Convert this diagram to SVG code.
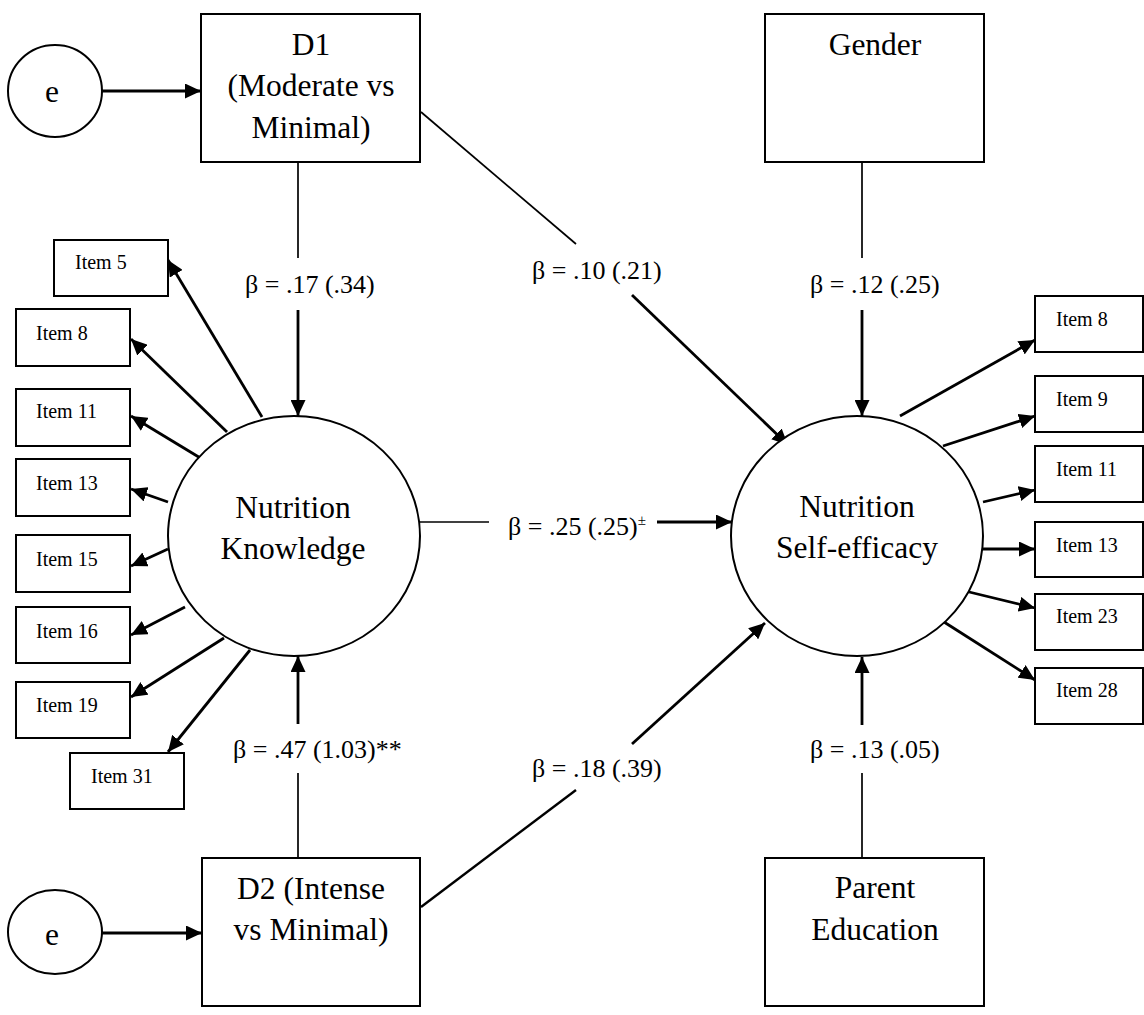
<svg xmlns="http://www.w3.org/2000/svg" width="1144" height="1015" viewBox="0 0 1144 1015">
<style>
.box{fill:#fff;stroke:#000;stroke-width:2}
.ell{fill:#fff;stroke:#000;stroke-width:2}
.big{font-family:"Liberation Serif","Times New Roman",serif;font-size:31.5px;fill:#000;text-anchor:middle}
.lab{font-family:"Liberation Serif","Times New Roman",serif;font-size:26px;fill:#000}
.item{font-family:"Liberation Serif","Times New Roman",serif;font-size:20px;fill:#000}
.thin{stroke:#000;stroke-width:1.7;fill:none}
.arr{stroke:#000;stroke-width:2.8;fill:none;marker-end:url(#ah)}
</style>
<defs>
<marker id="ah" viewBox="0 0 16 15" refX="16" refY="7.5" markerWidth="16" markerHeight="15" markerUnits="userSpaceOnUse" orient="auto">
<path d="M0,0 L16,7.5 L0,15 z" fill="#000"/>
</marker>
</defs>
<rect width="1144" height="1015" fill="#fff"/>
<g id="connectors">
<line class="arr" x1="102" y1="91" x2="201" y2="91"/>
<line class="arr" x1="102" y1="933" x2="202" y2="933"/>
<line class="thin" x1="298" y1="162" x2="298" y2="258"/>
<line class="arr" x1="298" y1="310" x2="298" y2="416"/>
<line class="thin" x1="298" y1="858" x2="298" y2="773"/>
<line class="arr" x1="298" y1="724" x2="298" y2="656"/>
<line class="thin" x1="421" y1="112" x2="576" y2="244"/>
<line class="arr" x1="632" y1="295" x2="788" y2="445"/>
<line class="thin" x1="421" y1="907" x2="576" y2="790" style="stroke-width:2.4"/>
<line class="arr" x1="632" y1="744" x2="765" y2="623"/>
<line class="thin" x1="862" y1="162" x2="862" y2="258"/>
<line class="arr" x1="862" y1="310" x2="862" y2="416"/>
<line class="thin" x1="862" y1="858" x2="862" y2="773"/>
<line class="arr" x1="862" y1="725" x2="862" y2="657"/>
<line class="thin" x1="420" y1="522" x2="489" y2="522"/>
<line class="arr" x1="657" y1="522" x2="732" y2="522"/>
<line class="arr" x1="262" y1="417" x2="168" y2="260"/>
<line class="arr" x1="227" y1="432" x2="131" y2="339"/>
<line class="arr" x1="202" y1="459" x2="131" y2="416"/>
<line class="arr" x1="168" y1="502" x2="131" y2="489"/>
<line class="arr" x1="168" y1="549" x2="131" y2="566"/>
<line class="arr" x1="185" y1="607" x2="131" y2="635"/>
<line class="arr" x1="224" y1="638" x2="131" y2="697"/>
<line class="arr" x1="250" y1="650" x2="168" y2="752"/>
<line class="arr" x1="900" y1="416" x2="1035" y2="340"/>
<line class="arr" x1="943" y1="446" x2="1035" y2="416"/>
<line class="arr" x1="983" y1="502" x2="1035" y2="490"/>
<line class="arr" x1="982" y1="549" x2="1035" y2="549"/>
<line class="arr" x1="965" y1="591" x2="1035" y2="608"/>
<line class="arr" x1="944" y1="622" x2="1035" y2="680"/>
<text class="lab" x="245" y="293">β = .17 (.34)</text>
<text class="lab" x="532" y="279">β = .10 (.21)</text>
<text class="lab" x="810" y="293">β = .12 (.25)</text>
<text class="lab" x="508" y="535">β = .25 (.25)<tspan font-size="15" dy="-10">±</tspan></text>
<text class="lab" x="233" y="758">β = .47 (1.03)**</text>
<text class="lab" x="532" y="777">β = .18 (.39)</text>
<text class="lab" x="810" y="758">β = .13 (.05)</text>
</g>
<g id="e1"><ellipse class="ell" cx="55" cy="91" rx="47" ry="46"/><text class="big" x="52" y="102">e</text></g>
<g id="e2"><ellipse class="ell" cx="55" cy="932" rx="47" ry="42"/><text class="big" x="52" y="945">e</text></g>
<g id="d1"><rect class="box" x="201" y="14" width="219" height="148"/>
<text class="big" x="311" y="55">D1</text><text class="big" x="311" y="96">(Moderate vs</text><text class="big" x="311" y="138">Minimal)</text></g>
<g id="gender"><rect class="box" x="765" y="14" width="219" height="148"/><text class="big" x="875" y="55">Gender</text></g>
<g id="d2"><rect class="box" x="202" y="858" width="218" height="148"/>
<text class="big" x="311" y="899">D2 (Intense</text><text class="big" x="311" y="940">vs Minimal)</text></g>
<g id="parent"><rect class="box" x="765" y="858" width="219" height="148"/>
<text class="big" x="875" y="898">Parent</text><text class="big" x="875" y="940">Education</text></g>
<g id="nk"><ellipse class="ell" cx="294" cy="536" rx="126" ry="120"/>
<text class="big" x="293" y="518">Nutrition</text><text class="big" x="293" y="559">Knowledge</text></g>
<g id="nse"><ellipse class="ell" cx="857" cy="536" rx="126" ry="120"/>
<text class="big" x="857" y="517">Nutrition</text><text class="big" x="857" y="558">Self-efficacy</text></g>
<g id="nk-item5"><rect class="box" x="54" y="240" width="114" height="56"/><text class="item" x="75" y="269">Item 5</text></g>
<g id="nk-item8"><rect class="box" x="16" y="309" width="114" height="57"/><text class="item" x="36" y="340">Item 8</text></g>
<g id="nk-item11"><rect class="box" x="16" y="389" width="114" height="57"/><text class="item" x="36" y="418">Item 11</text></g>
<g id="nk-item13"><rect class="box" x="16" y="459" width="114" height="57"/><text class="item" x="36" y="490">Item 13</text></g>
<g id="nk-item15"><rect class="box" x="16" y="535" width="114" height="57"/><text class="item" x="36" y="566">Item 15</text></g>
<g id="nk-item16"><rect class="box" x="16" y="607" width="114" height="56"/><text class="item" x="36" y="638">Item 16</text></g>
<g id="nk-item19"><rect class="box" x="16" y="682" width="114" height="56"/><text class="item" x="36" y="712">Item 19</text></g>
<g id="nk-item31"><rect class="box" x="70" y="753" width="114" height="56"/><text class="item" x="91" y="783">Item 31</text></g>
<g id="se-item8"><rect class="box" x="1035" y="296" width="108" height="56"/><text class="item" x="1056" y="326">Item 8</text></g>
<g id="se-item9"><rect class="box" x="1035" y="376" width="108" height="56"/><text class="item" x="1056" y="406">Item 9</text></g>
<g id="se-item11"><rect class="box" x="1035" y="446" width="108" height="56"/><text class="item" x="1056" y="476">Item 11</text></g>
<g id="se-item13"><rect class="box" x="1035" y="522" width="108" height="55"/><text class="item" x="1056" y="552">Item 13</text></g>
<g id="se-item23"><rect class="box" x="1035" y="594" width="108" height="56"/><text class="item" x="1056" y="623">Item 23</text></g>
<g id="se-item28"><rect class="box" x="1035" y="668" width="108" height="56"/><text class="item" x="1056" y="697">Item 28</text></g>
</svg>
